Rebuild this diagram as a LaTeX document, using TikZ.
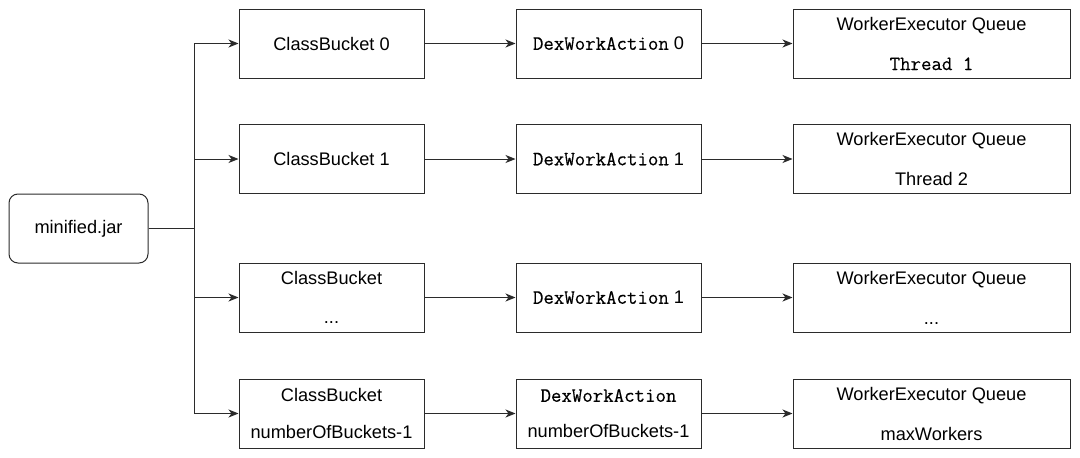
\documentclass[tikz,border=0pt]{standalone}
\usepackage{fontspec}
\setmainfont{Liberation Sans}
\setmonofont[FakeBold=0.4]{Latin Modern Mono}
\usetikzlibrary{arrows.meta}
\definecolor{linec}{HTML}{2B2B2B}
\tikzset{
  box/.style={draw=linec, line width=1pt, minimum width=185pt, minimum height=69pt, inner sep=0pt, align=center, text=black, font=\fontsize{18.2}{21}\selectfont},
  qbox/.style={box, minimum width=277pt},
  jarbox/.style={box, minimum width=139pt, rounded corners=9pt},
  arr/.style={draw=linec, line width=1pt, -{Stealth[length=10pt, width=8pt, inset=3pt]}},
}
\newcommand{\cour}[1]{{\fontsize{20.3}{21}\selectfont\ttfamily #1}}
\begin{document}
\begin{tikzpicture}[x=1pt, y=-1pt]
\useasboundingbox (0,0) rectangle (1080,458);
\fill[white] (0,0) rectangle (1080,458);

\node[jarbox] (jar) at (78.5,228.5) {minified.jar};
\coordinate (trunk) at (194,228.5);

\node[box] (cb0) at (331.5,43.5) {ClassBucket 0};
\node[box] (cb1) at (331.5,159) {ClassBucket 1};
\node[box] (cb2) at (331.5,297.5) {ClassBucket\\[18pt]...};
\node[box] (cb3) at (331.5,413.5) {ClassBucket\\[16pt]numberOfBuckets-1};

\node[box] (dw0) at (608.5,43.5) {\cour{DexWorkAction} 0};
\node[box] (dw1) at (608.5,159) {\cour{DexWorkAction} 1};
\node[box] (dw2) at (608.5,297.5) {\cour{DexWorkAction} 1};
\node[box] (dw3) at (608.5,413.5) {\cour{DexWorkAction}\\[15pt]numberOfBuckets-1};

\node[qbox] (q0) at (931.5,43.5) {WorkerExecutor Queue\\[19pt]\cour{Thread 1}};
\node[qbox] (q1) at (931.5,159) {WorkerExecutor Queue\\[19pt]Thread 2};
\node[qbox] (q2) at (931.5,297.5) {WorkerExecutor Queue\\[19pt]...};
\node[qbox] (q3) at (931.5,413.5) {WorkerExecutor Queue\\[19pt]maxWorkers};

\draw[arr] (jar.east) -- (trunk) |- (cb0.west);
\draw[arr] (jar.east) -- (trunk) |- (cb1.west);
\draw[arr] (jar.east) -- (trunk) |- (cb2.west);
\draw[arr] (jar.east) -- (trunk) |- (cb3.west);

\foreach \i in {0,1,2,3} {
  \draw[arr] (cb\i.east) -- (dw\i.west);
  \draw[arr] (dw\i.east) -- (q\i.west);
}
\end{tikzpicture}
\end{document}
